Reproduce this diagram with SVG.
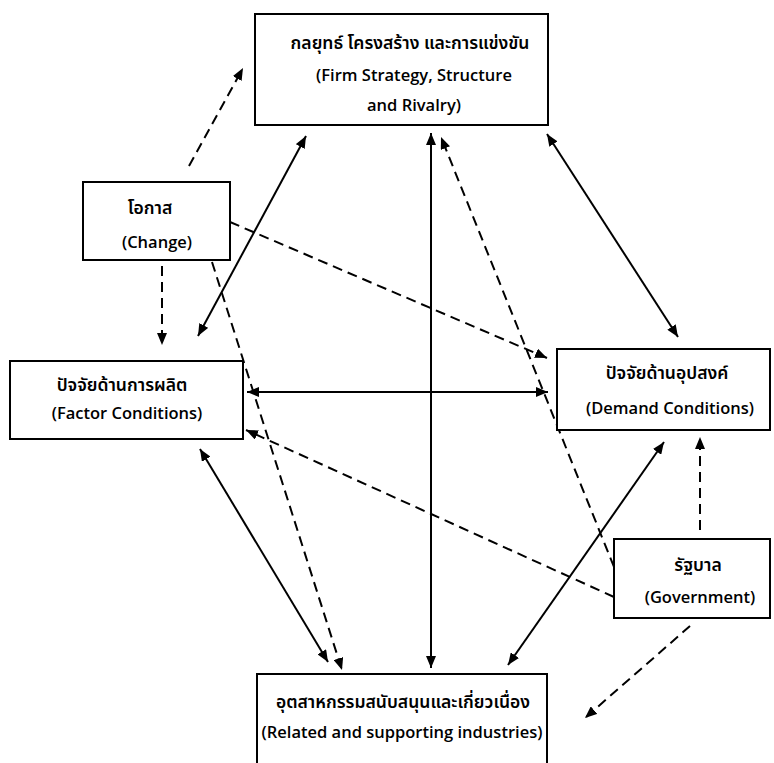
<svg xmlns="http://www.w3.org/2000/svg" width="774" height="763" viewBox="0 0 774 763">
<style>
.box{fill:#fff;stroke:#000;stroke-width:2}
.t{font-family:"Open Sans","Noto Sans","Noto Sans Thai",sans-serif;font-size:16.5px;font-weight:600;text-anchor:middle;fill:#000}
.th{font-size:17.5px;font-weight:600}
.s{fill:none;stroke:#000;stroke-width:2}
.d{fill:none;stroke:#000;stroke-width:2;stroke-dasharray:10,6}
</style>
<defs>
<marker id="ah" markerUnits="userSpaceOnUse" markerWidth="13" markerHeight="10" refX="12" refY="5" orient="auto-start-reverse" viewBox="0 0 13 10">
<path d="M0,0 L12,5 L0,10 z" fill="#000"/>
</marker>
</defs>
<rect width="774" height="763" fill="#fff"/>
<g id="connectors">
<line class="d" x1="189" y1="166" x2="243" y2="68" marker-end="url(#ah)"/>
<line class="s" x1="306" y1="136" x2="198" y2="336" marker-start="url(#ah)" marker-end="url(#ah)"/>
<line class="d" x1="162" y1="266" x2="162" y2="345" marker-end="url(#ah)"/>
<line class="d" x1="230" y1="222" x2="547" y2="358" marker-end="url(#ah)"/>
<line class="d" x1="212" y1="262" x2="342" y2="670" marker-end="url(#ah)"/>
<line class="s" x1="247" y1="392" x2="548" y2="392" marker-start="url(#ah)" marker-end="url(#ah)"/>
<line class="s" x1="431" y1="133" x2="431" y2="668" marker-start="url(#ah)" marker-end="url(#ah)"/>
<line class="d" x1="614" y1="567" x2="441" y2="137" marker-end="url(#ah)"/>
<line class="s" x1="547" y1="134" x2="678" y2="337" marker-start="url(#ah)" marker-end="url(#ah)"/>
<line class="d" x1="614" y1="597" x2="246" y2="430" marker-end="url(#ah)"/>
<line class="d" x1="700" y1="530" x2="700" y2="437" marker-end="url(#ah)"/>
<line class="s" x1="664" y1="442" x2="508" y2="665" marker-start="url(#ah)" marker-end="url(#ah)"/>
<line class="d" x1="690" y1="626" x2="585" y2="718" marker-end="url(#ah)"/>
<line class="s" x1="200" y1="449" x2="328" y2="662" marker-start="url(#ah)" marker-end="url(#ah)"/>
</g>
<g id="strategy">
<rect class="box" x="255" y="14" width="293" height="111"/>
<text class="t th" x="410" y="49">กลยุทธ์ โครงสร้าง และการแข่งขัน</text>
<text class="t" x="414" y="81">(Firm Strategy, Structure</text>
<text class="t" x="414" y="111">and Rivalry)</text>
</g>
<g id="chance">
<rect class="box" x="83" y="182" width="147" height="78"/>
<text class="t th" x="150" y="214">โอกาส</text>
<text class="t" x="157" y="248">(Change)</text>
</g>
<g id="factor">
<rect class="box" x="10" y="361" width="233" height="78"/>
<text class="t th" x="122" y="391">ปัจจัยด้านการผลิต</text>
<text class="t" x="127" y="419">(Factor Conditions)</text>
</g>
<g id="demand">
<rect class="box" x="557" y="349" width="213" height="81"/>
<text class="t th" x="667" y="379">ปัจจัยด้านอุปสงค์</text>
<text class="t" x="670" y="414">(Demand Conditions)</text>
</g>
<g id="government">
<rect class="box" x="614" y="539" width="156" height="79"/>
<text class="t th" x="698" y="571">รัฐบาล</text>
<text class="t" x="700" y="603">(Government)</text>
</g>
<g id="related">
<rect class="box" x="257" y="674" width="290" height="100"/>
<text class="t th" x="403" y="708">อุตสาหกรรมสนับสนุนและเกี่ยวเนื่อง</text>
<text class="t" x="402" y="738">(Related and supporting industries)</text>
</g>
</svg>
